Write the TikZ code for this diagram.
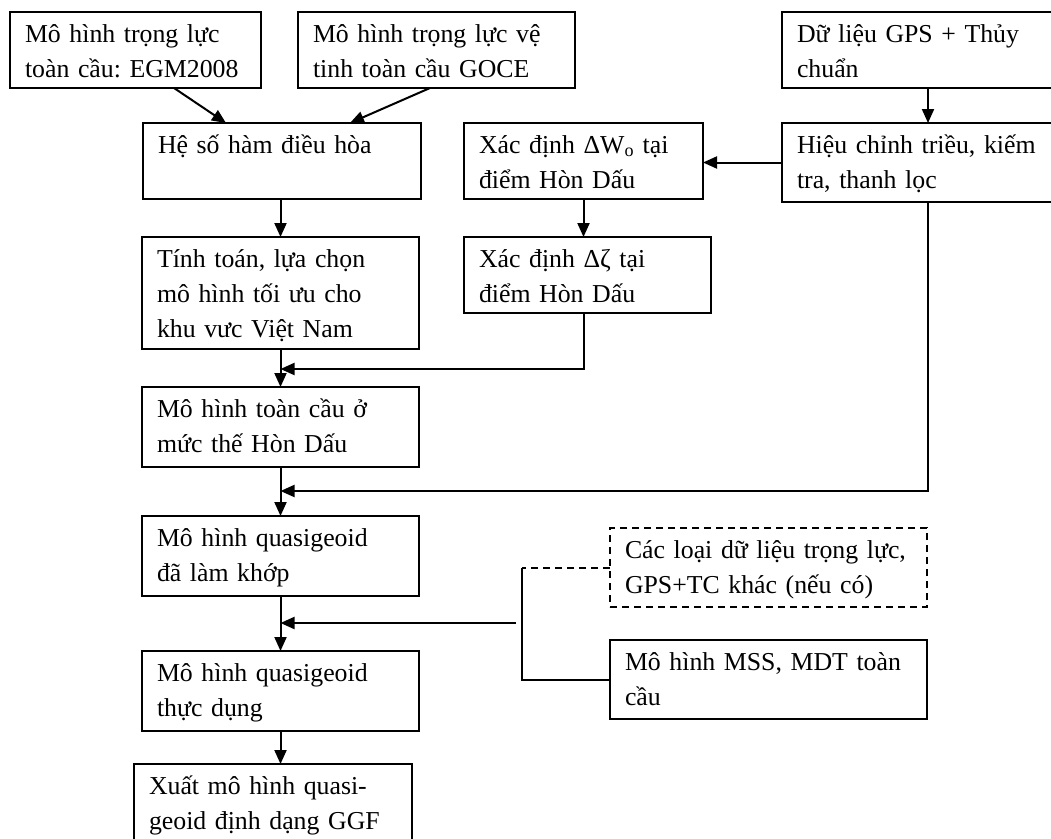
\documentclass[tikz,border=0pt]{standalone}
\usepackage{fontspec}
\setmainfont[WordSpace=0.85]{Liberation Serif}
\usetikzlibrary{arrows.meta}
\frenchspacing
\begin{document}
\begin{tikzpicture}[x=1pt,y=-1pt,
  bx/.style={draw, line width=2pt, anchor=north west, inner xsep=15pt, inner ysep=0pt, outer sep=0pt,
    align=left, text height=30pt, font=\fontsize{25.8pt}{35.3pt}\selectfont},
  dsh/.style={dash pattern=on 7pt off 5pt},
  ln/.style={line width=2pt},
  arr/.style={line width=2pt, -{Triangle[length=14pt,width=12pt]}}]
\useasboundingbox (0,0) rectangle (1051,838);
\clip (0,0) rectangle (1051,838);
\node[bx, text width=221pt, text depth=46pt] (A) at (10,12) {\mbox{Mô hình trọng lực}\\\mbox{toàn cầu: EGM2008}};
\node[bx, text width=247pt, text depth=46pt] (B) at (298,12) {\mbox{Mô hình trọng lực vệ}\\\mbox{tinh toàn cầu GOCE}};
\node[bx, text width=262pt, text depth=46pt] (E) at (782,12) {\mbox{Dữ liệu GPS + Thủy}\\\mbox{chuẩn}};
\node[bx, text width=248pt, text depth=46pt] (C) at (143,123) {\mbox{Hệ số hàm điều hòa}};
\node[bx, text width=209pt, text depth=46pt] (D) at (464,123) {\mbox{Xác định ΔW\textsubscript{o} tại}\\\mbox{điểm Hòn Dấu}};
\node[bx, text width=262pt, text depth=49pt] (F) at (782,123) {\mbox{Hiệu chỉnh triều, kiếm}\\\mbox{tra, thanh lọc}};
\node[bx, text width=247pt, text depth=82pt] (H) at (142,237) {\mbox{Tính toán, lựa chọn}\\\mbox{mô hình tối ưu cho}\\\mbox{khu vưc Việt Nam}};
\node[bx, text width=217pt, text depth=46pt] (G) at (464,237) {\mbox{Xác định Δζ tại}\\\mbox{điểm Hòn Dấu}};
\node[bx, text width=247pt, text depth=50pt] (I) at (142,387) {\mbox{Mô hình toàn cầu ở}\\\mbox{mức thế Hòn Dấu}};
\node[bx, text width=247pt, text depth=50pt] (J) at (142,516) {\mbox{Mô hình quasigeoid}\\\mbox{đã làm khớp}};
\node[bx, dsh, text width=287pt, text depth=49pt] (K) at (610,528) {\mbox{Các loại dữ liệu trọng lực,}\\\mbox{GPS+TC khác (nếu có)}};
\node[bx, text width=287pt, text depth=49pt] (L) at (610,640) {\mbox{Mô hình MSS, MDT toàn}\\\mbox{cầu}};
\node[bx, text width=247pt, text depth=50pt] (M) at (142,651) {\mbox{Mô hình quasigeoid}\\\mbox{thực dụng}};
\node[bx, text width=248pt, text depth=60pt] (N) at (134,764) {\mbox{Xuất mô hình quasi-}\\\mbox{geoid định dạng GGF}};
% connectors
\draw[arr] ([xshift=38.5pt]A.south) -- ([xshift=-56pt]C.north);
\draw[arr] ([xshift=-6.5pt]B.south) -- ([xshift=68pt]C.north);
\draw[arr] (E.south) -- (F.north);
\draw[arr] (F.west) -- (F.west -| D.east);
\draw[arr] (D.south) -- (D.south |- G.north);
\draw[arr] (H.north |- C.south) -- (H.north);
\coordinate (m1) at (280.5,369);
\draw[arr] (D.south |- G.south) |- (m1);
\draw[arr] (H.south) -- (I.north);
\coordinate (m2) at (280.5,491);
\draw[arr] (F.south) |- (m2);
\draw[arr] (I.south) -- (J.north);
\draw[arr] (J.south) -- (M.north);
\path (K.west) ++(-88,0) coordinate (k1);
\draw[ln, dsh] (K.west) -- (k1);
\draw[ln] (k1) |- (L.west);
\coordinate (k2) at (516,623);
\coordinate (m3) at (280.5,623);
\draw[arr] (k2) -- (m3);
\draw[arr] (M.south) -- (M.south |- N.north);
\end{tikzpicture}
\end{document}
